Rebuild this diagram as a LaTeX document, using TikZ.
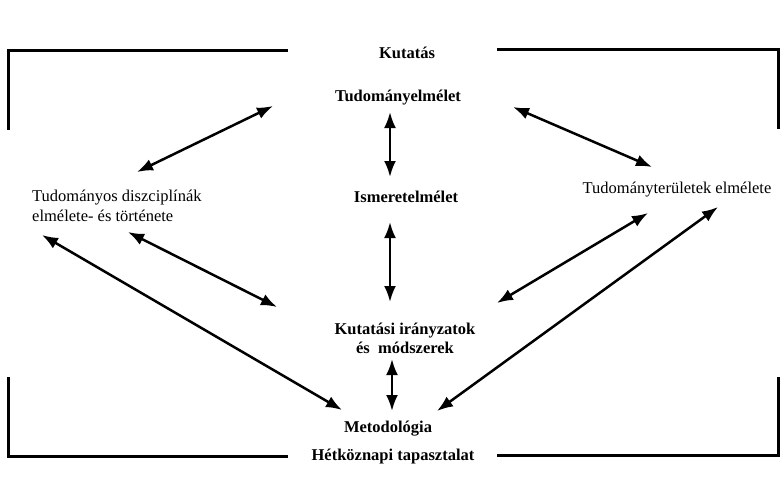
\documentclass[tikz,border=0pt]{standalone}
\usepackage{fontspec}
\setmainfont{Liberation Serif}
\usetikzlibrary{arrows.meta}
\begin{document}
\begin{tikzpicture}[x=1pt,y=-1pt,
  lbl/.style={font=\fontsize{16.5}{19}\selectfont\bfseries, inner sep=0pt, align=center},
  plain/.style={font=\fontsize{16.5}{20}\selectfont, inner sep=0pt, align=left},
  frame/.style={line width=3pt},
  arr/.style={line width=2.5pt, {Latex[length=16pt,width=12pt]}-{Latex[length=16pt,width=12pt]}}]
\useasboundingbox (0,0) rectangle (784,485);
% frame
\draw[frame] (288,50) -- (8,50) -- (8,130);
\draw[frame] (497,49) -- (778,49) -- (778,129);
\draw[frame] (8,377) -- (8,456) -- (288,456);
\draw[frame] (497,455) -- (778,455) -- (778,377);
% nodes
\node[lbl] (kut) at (407,53) {Kutatás};
\node[lbl] (tel) at (398,98) {Tudományelmélet};
\node[lbl] (ism) at (406,197) {Ismeretelmélet};
\node[plain, anchor=west] (dis) at (32,206) {Tudományos diszciplínák\\elmélete- és története};
\node[plain] (ter) at (677,190) {Tudományterületek elmélete};
\node[lbl] (kim) at (405,338) {Kutatási irányzatok\\és\ \ módszerek};
\node[lbl] (met) at (388,429) {Metodológia};
\node[lbl] (het) at (393,457) {Hétköznapi tapasztalat};
% arrow end points
\coordinate (a1s) at (137,172); \coordinate (a1e) at (273,106);
\coordinate (a2s) at (513,107); \coordinate (a2e) at (652,167);
\coordinate (a3s) at (390,112); \coordinate (a3e) at (390,177);
\coordinate (a4s) at (390,222); \coordinate (a4e) at (390,302);
\coordinate (a5s) at (128,232); \coordinate (a5e) at (277,307);
\coordinate (a6s) at (42,235);  \coordinate (a6e) at (342,410);
\coordinate (a7s) at (497,303); \coordinate (a7e) at (648,213);
\coordinate (a8s) at (718,207); \coordinate (a8e) at (437,411);
\coordinate (a9s) at (392,359); \coordinate (a9e) at (392,411);
\foreach \i in {1,...,9}{\draw[arr] (a\i s) -- (a\i e);}
\end{tikzpicture}
\end{document}
